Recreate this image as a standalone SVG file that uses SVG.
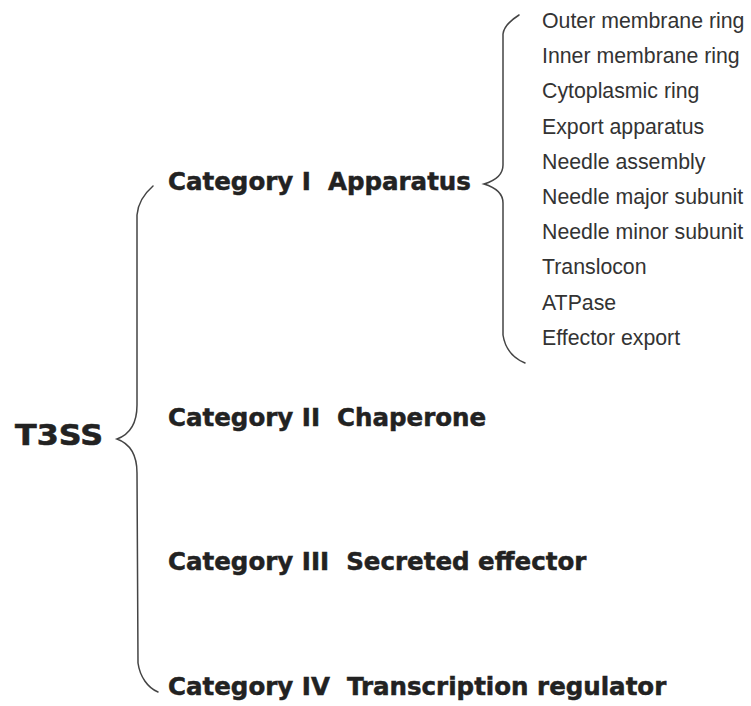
<svg xmlns="http://www.w3.org/2000/svg" width="751" height="706" viewBox="0 0 751 706">
<style>
.cat{font-family:"DejaVu Sans",Verdana,sans-serif;font-weight:bold;font-size:24.5px;fill:#222;stroke:#222;stroke-width:0.5}
.root{font-family:"DejaVu Sans",Verdana,sans-serif;font-weight:bold;font-size:29px;fill:#222;stroke:#222;stroke-width:0.6}
.sub{font-family:"Liberation Sans",Arial,sans-serif;font-size:21.3px;fill:#333}
.brace{fill:none;stroke:#444;stroke-width:1.5;stroke-linecap:round}
</style>
<rect width="751" height="706" fill="#fff"/>
<g id="connectors">
<path class="brace" d="M153,186 C145,193 138,202 137,215 L137,405 C137,425 128,435 117,439 C128,443 137,453 137,473 L138,663 C140,677 148,688 158,692"/>
<path class="brace" d="M519,15 C511,20 504,26 503,34 L503,165 C503,176 494,181 484,184 C494,187 503,193 503,203 L503,335 C505,348 513,358 525,363"/>
</g>
<g id="t3ss"><text class="root" x="15" y="445" textLength="88" lengthAdjust="spacingAndGlyphs">T3SS</text></g>
<g id="cat1"><text class="cat" x="168" y="190" xml:space="preserve">Category I  Apparatus</text></g>
<g id="cat2"><text class="cat" x="168" y="426" xml:space="preserve">Category II  Chaperone</text></g>
<g id="cat3"><text class="cat" x="168" y="570" xml:space="preserve">Category III  Secreted effector</text></g>
<g id="cat4"><text class="cat" x="168" y="695" xml:space="preserve">Category IV  Transcription regulator</text></g>
<g id="sub1"><text class="sub" x="542" y="28">Outer membrane ring</text></g>
<g id="sub2"><text class="sub" x="542" y="63">Inner membrane ring</text></g>
<g id="sub3"><text class="sub" x="542" y="98">Cytoplasmic ring</text></g>
<g id="sub4"><text class="sub" x="542" y="134">Export apparatus</text></g>
<g id="sub5"><text class="sub" x="542" y="169">Needle assembly</text></g>
<g id="sub6"><text class="sub" x="542" y="204">Needle major subunit</text></g>
<g id="sub7"><text class="sub" x="542" y="239">Needle minor subunit</text></g>
<g id="sub8"><text class="sub" x="542" y="274">Translocon</text></g>
<g id="sub9"><text class="sub" x="542" y="310">ATPase</text></g>
<g id="sub10"><text class="sub" x="542" y="345">Effector export</text></g>
</svg>
